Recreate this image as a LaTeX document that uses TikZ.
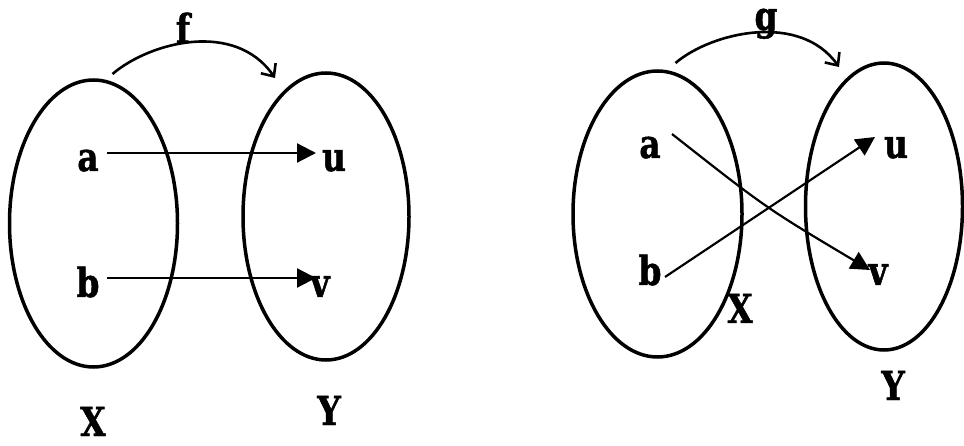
\documentclass[tikz,border=0pt]{standalone}
\usepackage{fontspec}
\newfontfamily\lblfont{DejaVu Serif}[FakeStretch=0.82,BoldFeatures={FakeStretch=0.82,FakeBold=1.2}]
\usetikzlibrary{shapes.geometric,arrows.meta}
\tikzset{
  setbox/.style={draw, ellipse, line width=3.5pt, inner sep=0pt, outer sep=0pt},
  lbl/.style={anchor=base, inner sep=0pt, outer sep=0pt, font=\fontsize{40}{42}\lblfont\bfseries},
  maparrow/.style={line width=2.2pt, -{Triangle[length=19pt,width=19pt]}},
  fnarrow/.style={line width=2.6pt, -{Straight Barb[length=10pt,width=18pt,line width=2.6pt]}}
}
\begin{document}
\begin{tikzpicture}[x=1pt,y=-1pt]
\useasboundingbox (0,0) rectangle (964,446);
% left diagram
\node[setbox, minimum width=168pt, minimum height=287pt] (X1) at (93.5,223.5) {};
\node[setbox, minimum width=166pt, minimum height=287pt] (Y1) at (326,216.5) {};
\node[lbl] (a1) at (88,171) {a};
\node[lbl] (b1) at (88,297) {b};
\node[lbl] (u1) at (334,171) {u};
\node[lbl] (v1) at (320,297) {v};
\node[lbl] (xl1) at (93,436) {X};
\node[lbl] (yl1) at (329,425) {Y};
\node[lbl] (f) at (183,43) {f};
\draw[maparrow] ([shift={(19,-18)}]a1.base) -- ([shift={(-18,-18)}]u1.base);
\draw[maparrow] ([shift={(19,-19)}]b1.base) -- ([shift={(-4,-19)}]v1.base);
\draw[fnarrow] ([shift={(19,-6)}]X1.north) .. controls (150,42) and (235,20) .. ([shift={(-51,5)}]Y1.north);
% right diagram
\node[setbox, minimum width=169pt, minimum height=286pt] (X2) at (657.5,214) {};
\node[setbox, minimum width=157pt, minimum height=287pt] (Y2) at (884,206.5) {};
\node[lbl] (a2) at (650,158) {a};
\node[lbl] (b2) at (650,285) {b};
\node[lbl] (u2) at (896,158) {u};
\node[lbl] (v2) at (878,285) {v};
\node[lbl] (xl2) at (740,323) {X};
\node[lbl] (yl2) at (893,400) {Y};
\node[lbl] (g) at (766,30) {g};
\draw[maparrow] ([shift={(22,-24)}]a2.base) .. controls (766,208) .. ([shift={(-8,-15)}]v2.base);
\draw[maparrow] ([shift={(15,-8)}]b2.base) -- ([shift={(-21,-21)}]u2.base);
\draw[fnarrow] ([shift={(18,-8)}]X2.north) .. controls (712,32) and (800,12) .. ([shift={(-45,4)}]Y2.north);
\end{tikzpicture}
\end{document}
